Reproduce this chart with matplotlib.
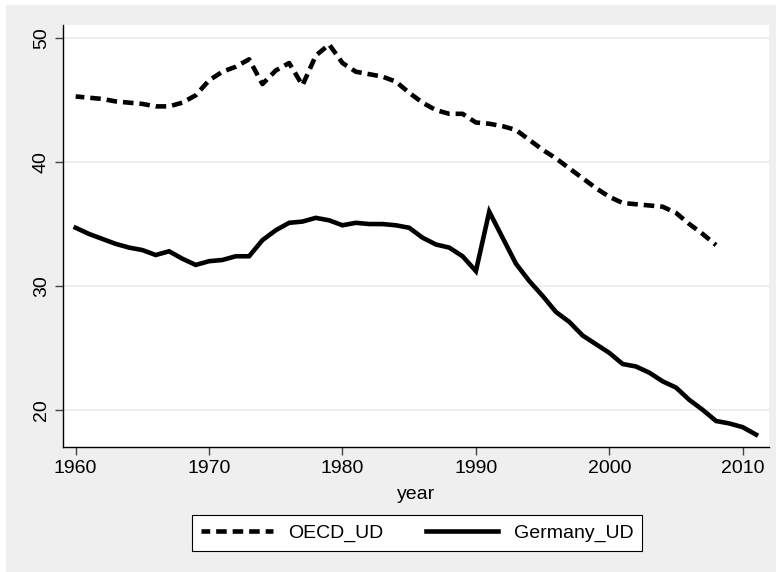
import numpy as np
import matplotlib
matplotlib.use("Agg")
import matplotlib.pyplot as plt
from matplotlib.patches import Rectangle

# ---------------------------------------------------------------------------
# Data
# ---------------------------------------------------------------------------
oecd_years = list(range(1960, 2009))
oecd_ud = [45.3, 45.2, 45.1, 44.9, 44.8, 44.7, 44.5, 44.5, 44.8, 45.4,
           46.6, 47.3, 47.7, 48.3, 46.3, 47.4, 48.0, 46.2, 48.6, 49.5,
           48.0, 47.3, 47.1, 46.9, 46.5, 45.6, 44.8, 44.2, 43.9, 43.9,
           43.2, 43.1, 42.9, 42.6, 41.8, 41.0, 40.3, 39.5, 38.7, 37.9,
           37.2, 36.7, 36.6, 36.5, 36.4, 35.9, 35.0, 34.2, 33.3]

germany_years = list(range(1960, 2012))
germany_ud = [34.7, 34.2, 33.8, 33.4, 33.1, 32.9, 32.5, 32.8, 32.2, 31.7,
              32.0, 32.1, 32.4, 32.4, 33.7, 34.5, 35.1, 35.2, 35.5, 35.3,
              34.9, 35.1, 35.0, 35.0, 34.9, 34.7, 33.9, 33.35, 33.1, 32.4,
              31.2, 36.0, 33.9, 31.8, 30.4, 29.2, 27.9, 27.1, 26.0, 25.3,
              24.6, 23.7, 23.5, 23.0, 22.3, 21.8, 20.8, 20.0, 19.1, 18.9,
              18.6, 18.0]

x_ticks = [1960, 1970, 1980, 1990, 2000, 2010]
y_ticks = [20, 30, 40, 50]

# ---------------------------------------------------------------------------
# Style
# ---------------------------------------------------------------------------
plt.rcParams["font.family"] = ["Liberation Sans", "DejaVu Sans"]
BG = "#efefef"
FS = 14

fig = plt.figure(figsize=(7.76, 5.72), dpi=100, facecolor=BG)
# thin white strips on left/top edge, as in the reference
fig.patches.append(Rectangle((0, 0), 6 / 776, 1, transform=fig.transFigure,
                             facecolor="white", edgecolor="none", zorder=-1))
fig.patches.append(Rectangle((0, 1 - 5 / 572), 1, 5 / 572, transform=fig.transFigure,
                             facecolor="white", edgecolor="none", zorder=-1))

ax = fig.add_axes([63 / 776, 1 - 447 / 572, (769 - 63) / 776, (447 - 25) / 572])
ax.set_facecolor("white")

ax.plot(oecd_years, oecd_ud, color="black", lw=3.3, ls=(0.4, (2.3, 1.3)),
        dash_capstyle="butt", solid_joinstyle="miter", label="OECD_UD")
ax.plot(germany_years, germany_ud, color="black", lw=3.3,
        solid_joinstyle="miter", label="Germany_UD")

ax.set_xlim(1959.05, 2011.97)
ax.set_ylim(17.0, 51.07)
ax.set_xticks(x_ticks)
ax.set_yticks(y_ticks)
ax.set_yticklabels([str(v) for v in y_ticks], rotation=90, va="center")

ax.grid(axis="y", color="#eaeaea", lw=1.2)
ax.set_axisbelow(True)
for s in ("top", "right"):
    ax.spines[s].set_visible(False)
for s in ("left", "bottom"):
    ax.spines[s].set_color("black")
    ax.spines[s].set_linewidth(1.0)

ax.tick_params(axis="both", direction="out", length=5.5, width=1.0,
               color="#444444", labelsize=FS, pad=4)
ax.set_xlabel("year", fontsize=FS, labelpad=6)

leg = ax.legend(loc="center", bbox_to_anchor=(417 / 776, 1 - 533 / 572),
                bbox_transform=fig.transFigure, ncol=2, fontsize=FS,
                frameon=True, fancybox=False, framealpha=1,
                edgecolor="black", handlelength=3.7, handletextpad=0.8,
                columnspacing=2.2, borderpad=0.45)
leg.get_frame().set_linewidth(0.8)

fig.savefig("out.png", dpi=100, facecolor=BG)
